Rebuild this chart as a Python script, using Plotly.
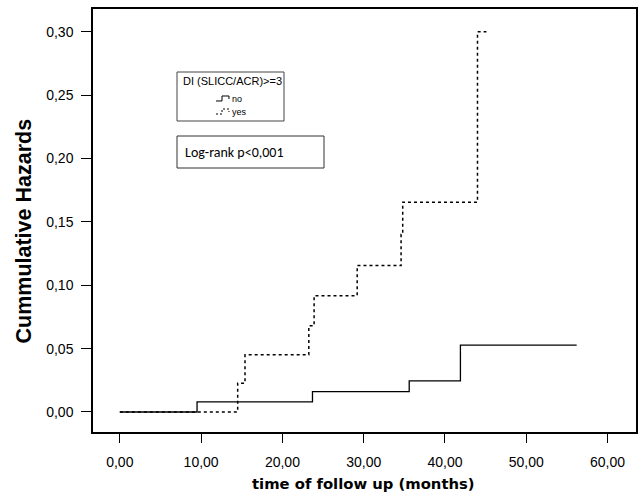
import plotly.graph_objects as go

# Cumulative hazard step data (time in months, hazard)
no_time = [0.0, 9.5, 23.7, 35.6, 41.9, 56.2]
no_haz = [0.0, 0.0080, 0.0160, 0.0245, 0.0527, 0.0527]

yes_time = [0.0, 14.5, 15.4, 23.25, 23.9, 29.2, 34.6, 34.8, 44.0, 45.1]
yes_haz = [0.0, 0.0227, 0.0451, 0.068, 0.0918, 0.1155, 0.140, 0.1656, 0.300, 0.300]

x_ticks = [0, 10, 20, 30, 40, 50, 60]
x_labels = ["0,00", "10,00", "20,00", "30,00", "40,00", "50,00", "60,00"]
y_ticks = [0.0, 0.05, 0.10, 0.15, 0.20, 0.25, 0.30]
y_labels = ["0,00", "0,05", "0,10", "0,15", "0,20", "0,25", "0,30"]

legend_title = "DI (SLICC/ACR)>=3"
legend_names = ["no", "yes"]

# plot-area pixel geometry helpers (for decorations only)
L, R, T, B = 93, 636, 9, 432
W, H = 638, 495
def px(xp):
    return (xp - L) / (R - L)
def py(yp):
    return (B - yp) / (B - T)

fig = go.Figure()
fig.add_trace(go.Scatter(x=no_time, y=no_haz, mode="lines", name=legend_names[0],
                         line=dict(shape="hv", color="black", width=1.3)))
fig.add_trace(go.Scatter(x=yes_time, y=yes_haz, mode="lines", name=legend_names[1],
                         line=dict(shape="hv", color="black", width=1.5, dash="3px,3px")))

fig.update_layout(
    width=W, height=H, autosize=False,
    margin=dict(l=L, r=W - R, t=T, b=H - B),
    paper_bgcolor="white", plot_bgcolor="white",
    font=dict(family="Liberation Sans, Arial, sans-serif", color="black", size=14),
    showlegend=False,
)

fig.update_xaxes(
    range=[-3.3, 63.5], tickmode="array", tickvals=x_ticks, ticktext=x_labels,
    showgrid=False, zeroline=False, showline=True, linecolor="black", linewidth=1.5,
    mirror=True, ticks="outside", ticklen=9, tickwidth=1.3, tickcolor="black",
    ticklabelstandoff=7, automargin=False,
)
fig.update_yaxes(
    range=[-0.0158, 0.318], tickmode="array", tickvals=y_ticks, ticktext=y_labels,
    showgrid=False, zeroline=False, showline=True, linecolor="black", linewidth=1.5,
    mirror=True, ticks="outside", ticklen=10, tickwidth=1.3, tickcolor="black",
    ticklabelstandoff=5, automargin=False,
)

# axis titles
fig.add_annotation(xref="paper", yref="paper", x=px(363), y=py(483),
                   xanchor="center", yanchor="middle", showarrow=False,
                   text="<b>time of follow up (months)</b>",
                   font=dict(family="DejaVu Sans, Verdana, sans-serif", size=14.8))
fig.add_annotation(xref="paper", yref="paper", x=px(24), y=py(231.5),
                   xanchor="center", yanchor="middle", showarrow=False, textangle=-90,
                   text="<b>Cummulative Hazards</b>",
                   font=dict(family="Liberation Sans, Arial, sans-serif", size=21.5))

# legend box (drawn manually)
fig.add_shape(type="rect", xref="paper", yref="paper",
              x0=px(177), x1=px(284), y0=py(121), y1=py(72),
              line=dict(color="#444", width=1), fillcolor="white")
fig.add_annotation(xref="paper", yref="paper", x=px(181), y=py(81),
                   xanchor="left", yanchor="middle", showarrow=False,
                   text=legend_title, font=dict(size=11))
# legend icons: small step glyphs
def icon_path(x0, yb):
    pts = [(x0, yb), (x0 + 6, yb), (x0 + 6, yb - 5), (x0 + 13, yb - 5), (x0 + 13, yb - 2)]
    return "M " + " L ".join(f"{px(a):.5f},{py(b):.5f}" for a, b in pts)
fig.add_shape(type="path", xref="paper", yref="paper", path=icon_path(216, 101),
              line=dict(color="black", width=1))
fig.add_shape(type="path", xref="paper", yref="paper", path=icon_path(216, 114),
              line=dict(color="black", width=1, dash="2px,2px"))
fig.add_annotation(xref="paper", yref="paper", x=px(230), y=py(99),
                   xanchor="left", yanchor="middle", showarrow=False,
                   text=legend_names[0], font=dict(size=9))
fig.add_annotation(xref="paper", yref="paper", x=px(230), y=py(112),
                   xanchor="left", yanchor="middle", showarrow=False,
                   text=legend_names[1], font=dict(size=9))

# log-rank box
fig.add_shape(type="rect", xref="paper", yref="paper",
              x0=px(177), x1=px(324), y0=py(168), y1=py(136),
              line=dict(color="#333", width=1), fillcolor="rgba(0,0,0,0)")
fig.add_annotation(xref="paper", yref="paper", x=px(183), y=py(152),
                   xanchor="left", yanchor="middle", showarrow=False,
                   text="Log-rank p<0,001",
                   font=dict(family="Carlito, Liberation Sans, sans-serif", size=14))

fig.write_html("out.html", config={"responsive": False, "displayModeBar": False},
               post_script="document.body.style.margin='0';document.body.style.padding='0';")
